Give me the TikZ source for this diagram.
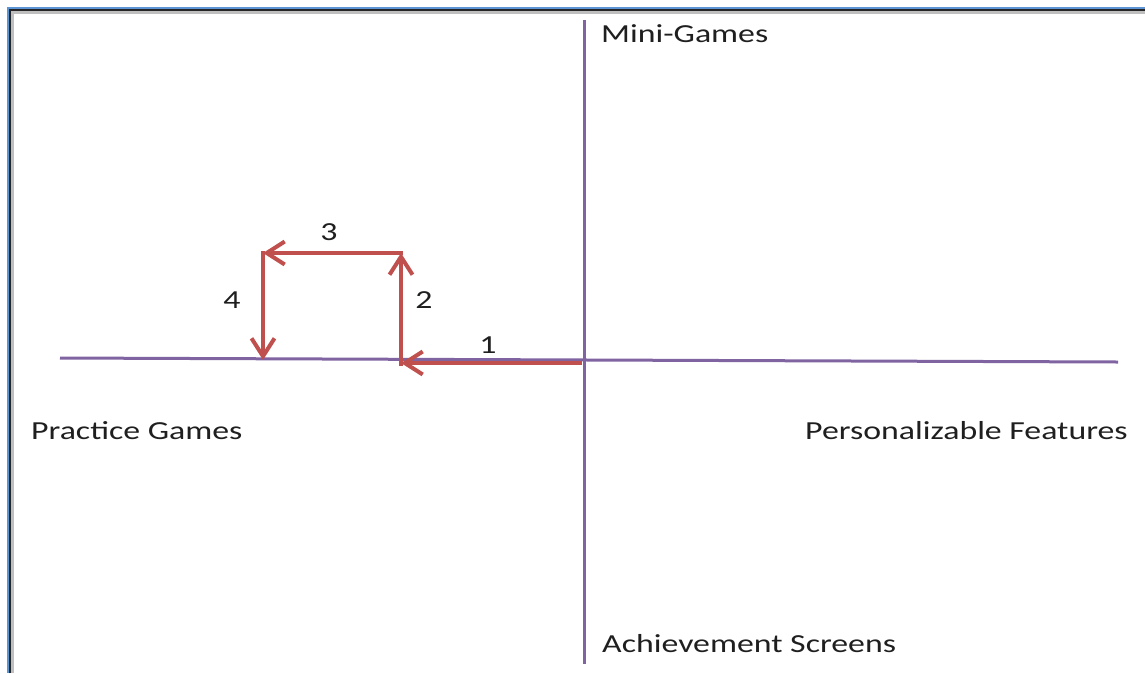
\documentclass[tikz,border=0pt]{standalone}
\usepackage{fontspec}
\setmainfont{Carlito}
\usetikzlibrary{arrows.meta}
\definecolor{axispurple}{HTML}{8064A2}
\definecolor{arrowred}{HTML}{C0504D}
\definecolor{frameblue}{HTML}{5B95D5}
\tikzset{
  axisline/.style={draw=axispurple, line width=3pt},
  steparrow/.style={draw=arrowred, line width=4.5pt, -{Straight Barb[length=18pt,width=23pt,line width=4pt]}},
  lbl/.style={inner sep=0pt, anchor=base west, font=\fontsize{26}{30}\selectfont, text=black!88},
  numlbl/.style={inner sep=0pt, anchor=base, font=\fontsize{26}{30}\selectfont, text=black!88}
}
\newcommand{\wide}[1]{\scalebox{1.3}[1]{#1}}
\begin{document}
\begin{tikzpicture}[x=1pt,y=-1pt]
\useasboundingbox (0,0) rectangle (1145,673);
\fill[white] (0,0) rectangle (1145,673);
% frame
\draw[black!25, line width=3pt] (12.5,673) -- (12.5,12.5) -- (1145,12.5);
\draw[frameblue, line width=2pt] (8.3,673) -- (8.3,8.3) -- (1145,8.3);
\draw[black!85, line width=2pt] (10.3,673) -- (10.3,10.3) -- (1145,10.3);
% axes
\coordinate (top) at (584,20);
\coordinate (bottom) at (584,664);
\coordinate (left) at (60,358);
\coordinate (right) at (1118,362);
\draw[axisline] (top) -- (bottom);
\draw[axisline] (left) -- (right);
% path points
\coordinate (O) at (582,363);
\coordinate (A) at (401,363);
\coordinate (A2) at (401,366);
\coordinate (B) at (401,253);
\coordinate (B2) at (403,253);
\coordinate (C) at (263,253);
\coordinate (C2) at (263,251);
\coordinate (D) at (263,360);
\draw[steparrow] (O) -- (A);
\draw[steparrow] (A2) -- (B);
\draw[steparrow] (B2) -- (C);
\draw[steparrow] (C2) -- (D);
% labels
\node[numlbl] (n1) at (488,353) {\wide{1}};
\node[numlbl] (n2) at (424,308) {\wide{2}};
\node[numlbl] (n3) at (329,240) {\wide{3}};
\node[numlbl] (n4) at (232,308) {\wide{4}};
\node[lbl] (mini) at (601,42) {\wide{Mini-Games}};
\node[lbl] (prac) at (31,439) {\wide{Practice Games}};
\node[lbl] (pers) at (805,439) {\wide{Personalizable Features}};
\node[lbl] (ach) at (602,652) {\wide{Achievement Screens}};
\end{tikzpicture}
\end{document}
